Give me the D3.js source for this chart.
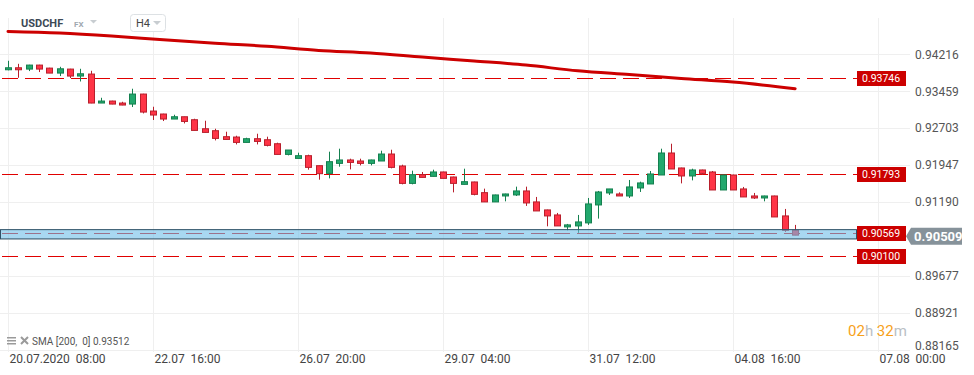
<!DOCTYPE html>
<html>
<head>
<meta charset="utf-8">
<script src="https://cdn.jsdelivr.net/npm/d3@7"></script>
<style>
body { margin: 0; background: #fff; }
svg { display: block; font-family: Roboto, "Noto Sans", sans-serif; }
text { white-space: pre; }
</style>
</head>
<body>
<svg id="chart" width="974" height="375"></svg>
<script>
// USDCHF H4 candles, 20.07.2020 08:00 onwards
var opens = [0.93899,0.93940,0.93913,0.93995,0.93933,0.93831,0.93913,0.93770,0.93811,0.93217,
  0.93258,0.93217,0.93196,0.93401,0.93053,0.92992,0.92889,0.92936,0.92875,0.92690,
  0.92650,0.92527,0.92520,0.92410,0.92486,0.92465,0.92383,0.92164,0.92082,0.92138,
  0.91933,0.91775,0.91980,0.92050,0.92029,0.91980,0.92029,0.92172,0.91927,0.91570,
  0.91749,0.91714,0.91804,0.91701,0.91550,0.91599,0.91380,0.91190,0.91312,0.91333,
  0.91415,0.91190,0.91026,0.90923,0.90678,0.90698,0.90760,0.91128,0.91374,0.91353,
  0.91312,0.91476,0.91558,0.91742,0.92193,0.91886,0.91722,0.91845,0.91804,0.91435,
  0.91742,0.91456,0.91312,0.91271,0.91312,0.90903,0.90608];
var highs = [0.94083,0.94021,0.94001,0.94001,0.93940,0.93960,0.93919,0.93919,0.93878,0.93325,
  0.93264,0.93243,0.93510,0.93407,0.93141,0.92998,0.92977,0.92936,0.92895,0.92854,
  0.92690,0.92629,0.92547,0.92506,0.92588,0.92527,0.92404,0.92254,0.92199,0.92158,
  0.91933,0.92220,0.92281,0.92076,0.92076,0.92056,0.92240,0.92260,0.91953,0.91830,
  0.91804,0.91851,0.91810,0.91708,0.91871,0.91605,0.91462,0.91339,0.91359,0.91503,
  0.91503,0.91292,0.91032,0.90964,0.90739,0.90923,0.91271,0.91415,0.91456,0.91386,
  0.91640,0.91605,0.91824,0.92281,0.92383,0.91892,0.91871,0.91851,0.91824,0.91749,
  0.91749,0.91497,0.91374,0.91318,0.91318,0.91046,0.90719];
var lows = [0.93888,0.93735,0.93872,0.93852,0.93831,0.93770,0.93729,0.93659,0.93213,0.93217,
  0.93192,0.93172,0.93135,0.93004,0.92869,0.92848,0.92889,0.92799,0.92656,0.92615,
  0.92451,0.92471,0.92369,0.92410,0.92369,0.92328,0.92164,0.92144,0.92082,0.91851,
  0.91646,0.91673,0.91912,0.91857,0.91939,0.91939,0.92029,0.91878,0.91550,0.91550,
  0.91693,0.91714,0.91673,0.91386,0.91550,0.91325,0.91190,0.91190,0.91202,0.91312,
  0.91108,0.91005,0.90690,0.90698,0.90608,0.90555,0.90719,0.90848,0.91333,0.91312,
  0.91271,0.91394,0.91558,0.91742,0.91865,0.91570,0.91632,0.91742,0.91435,0.91435,
  0.91435,0.91292,0.91251,0.91202,0.90882,0.90575,0.90509];
var closes = [0.93940,0.93899,0.93995,0.93913,0.93831,0.93919,0.93770,0.93817,0.93217,0.93258,
  0.93196,0.93176,0.93401,0.93032,0.92971,0.92889,0.92936,0.92840,0.92656,0.92615,
  0.92492,0.92471,0.92410,0.92486,0.92430,0.92349,0.92164,0.92254,0.92138,0.91898,
  0.91769,0.92015,0.92050,0.92000,0.91980,0.92050,0.92172,0.91898,0.91570,0.91749,
  0.91693,0.91804,0.91673,0.91570,0.91605,0.91345,0.91190,0.91333,0.91353,0.91415,
  0.91169,0.91005,0.90903,0.90698,0.90719,0.90780,0.91149,0.91394,0.91456,0.91312,
  0.91497,0.91579,0.91763,0.92193,0.91865,0.91722,0.91845,0.91775,0.91435,0.91742,
  0.91435,0.91292,0.91271,0.91312,0.90882,0.90608,0.90509];

// SMA(200) read at some candles
var smaIdx = [0,5,10,15,20,25,30,35,40,45,50,55,60,65,70,76];
var smaVals = [0.94683,0.94652,0.94591,0.94513,0.94441,0.94380,0.94294,0.94243,
  0.94159,0.94079,0.93995,0.93878,0.93800,0.93720,0.93647,0.93512];

var gridTicks = [0.94216,0.93459,0.92703,0.91947,0.91190,0.90433,0.89677,0.88921,0.88165];
// 0.90433 sits under the price tag, so no label for it
var priceLabels = [0.94216,0.93459,0.92703,0.91947,0.91190,0.89677,0.88921,0.88165];
var timeTickIdx = [0,14,28,42,56,70,84];
var timeTickLabels = ["20.07.2020  08:00","22.07  16:00","26.07  20:00","29.07  04:00",
  "31.07  12:00","04.08  16:00","07.08  00:00"];

var levels = [0.93746,0.91793,0.90569,0.90100];
var zone = [0.90432,0.90622];
var lastPrice = 0.90509;
var smaLegend = "SMA [200,  0] 0.93512";

var svg = d3.select("#chart");
var x = d3.scaleLinear().domain([0, 84]).range([8, 878]);
var y = d3.scaleLinear().domain([0.88165, 0.94216]).range([349.5, 54.3]);
var px = function(v) { return Math.round(v) + 0.5; };

// grid
svg.append("g").selectAll("line").data(gridTicks).enter().append("line")
  .attr("x1", 0).attr("x2", 910)
  .attr("y1", d => px(y(d))).attr("y2", d => px(y(d)))
  .attr("stroke", "#efefef");
svg.append("g").selectAll("line").data(timeTickIdx).enter().append("line")
  .attr("x1", d => px(x(d))).attr("x2", d => px(x(d)))
  .attr("y1", 18).attr("y2", 352)
  .attr("stroke", "#efefef");

// axes
var yAxis = d3.axisRight(y).tickValues(priceLabels).tickFormat(d3.format(".5f"))
  .tickSize(0).tickPadding(0);
var gy = svg.append("g").attr("transform", "translate(915,0)").call(yAxis);
gy.select(".domain").remove();
gy.attr("font-family", null);
gy.selectAll("text").attr("fill", "#555").style("font-size", "12px")
  .attr("y", d => d === 0.88165 ? -4 : 0);

var xAxis = d3.axisBottom(x).tickValues(timeTickIdx)
  .tickFormat((d, i) => timeTickLabels[i]).tickSize(0).tickPadding(5);
var gx = svg.append("g").attr("transform", "translate(0,349)").call(xAxis);
gx.select(".domain").remove();
gx.attr("font-family", null);
gx.selectAll("text").attr("fill", "#444").style("font-size", "12px")
  .attr("text-anchor", "start").attr("x", 1);

// horizontal levels
svg.append("g").selectAll("line").data(levels).enter().append("line")
  .attr("x1", 2).attr("x2", 857)
  .attr("y1", d => Math.round(y(d)) + 1.5).attr("y2", d => Math.round(y(d)) + 1.5)
  .style("stroke", "#e00000").style("stroke-width", 1)
  .style("stroke-dasharray", "16,7");

// SMA line
var smaPts = smaIdx.map((d, i) => [d, smaVals[i]]);
svg.append("path").datum(smaPts)
  .attr("d", d3.line().x(d => x(d[0])).y(d => y(d[1])).curve(d3.curveMonotoneX))
  .attr("fill", "none").attr("stroke", "#cc0000").attr("stroke-width", 3)
  .attr("stroke-linecap", "round");

// candles
var candles = opens.map((o, i) => ({ i: i, o: o, h: highs[i], l: lows[i], c: closes[i] }));
var cg = svg.append("g").selectAll("g").data(candles).enter().append("g");
var edge = d => d.c >= d.o ? "#14804f" : "#b81f2c";
cg.append("line")
  .attr("x1", d => px(x(d.i))).attr("x2", d => px(x(d.i)))
  .attr("y1", d => y(d.h)).attr("y2", d => y(d.l))
  .attr("stroke", edge);
cg.append("rect")
  .attr("x", d => Math.round(x(d.i)) - 2.5)
  .attr("y", d => y(Math.max(d.o, d.c)))
  .attr("width", 6)
  .attr("height", d => Math.max(1, Math.abs(y(d.o) - y(d.c))))
  .attr("fill", d => d.c >= d.o ? "#22a86d" : "#ff3446")
  .attr("stroke", edge);

// zone band
svg.append("rect")
  .attr("x", 0.5).attr("width", 856)
  .attr("y", y(zone[1])).attr("height", y(zone[0]) - y(zone[1]))
  .attr("fill", "rgba(110,190,232,0.6)").attr("stroke", "#2f5167");

// level labels
var lab = svg.append("g").selectAll("g").data(levels).enter().append("g")
  .attr("transform", d => "translate(857," + (Math.round(y(d)) + 1.5) + ")");
lab.append("rect").attr("x", 0).attr("y", -7.5).attr("width", 49).attr("height", 15)
  .attr("fill", "#cc0000");
lab.append("text").attr("x", 5).attr("dy", "0.35em").attr("fill", "#fff")
  .style("font-size", "10.5px").text(d => d3.format(".5f")(d));

// last price tag
var yl = y(lastPrice) + 1;
svg.append("path")
  .attr("d", "M906," + yl + "L911," + (yl - 8.5) + "H962V" + (yl + 8.5) + "H911Z")
  .attr("fill", "#86929a");
svg.append("text").attr("x", 914).attr("y", yl).attr("dy", "0.36em")
  .attr("fill", "#fff").style("font-size", "13px").style("font-weight", "bold")
  .text(d3.format(".5f")(lastPrice));

// header
svg.append("text").attr("x", 21).attr("y", 27).attr("fill", "#3c4955")
  .style("font-size", "11px").style("font-weight", "bold").text("USDCHF");
svg.append("text").attr("x", 74).attr("y", 27).attr("fill", "#9fa8af")
  .style("font-size", "8px").style("font-weight", "bold").text("FX");
svg.append("path").attr("d", "M90,20H97L93.5,23.5Z").attr("fill", "#c8cdd1");
svg.append("rect").attr("x", 130.5).attr("y", 14.5).attr("width", 35).attr("height", 17)
  .attr("rx", 3).attr("fill", "#fff").attr("stroke", "#dde1e4");
svg.append("text").attr("x", 136).attr("y", 27).attr("fill", "#444")
  .style("font-size", "11px").text("H4");
svg.append("path").attr("d", "M153,21H161L157,25Z").attr("fill", "#c8cdd1");

// SMA legend
var leg = svg.append("g").attr("fill", "#9a9a9a");
leg.append("rect").attr("x", 7).attr("y", 337).attr("width", 9).attr("height", 1.5);
leg.append("rect").attr("x", 7).attr("y", 340).attr("width", 9).attr("height", 1.5);
leg.append("rect").attr("x", 7).attr("y", 343).attr("width", 9).attr("height", 1.5);
leg.append("path").attr("d", "M21,337L28,344M28,337L21,344")
  .attr("stroke", "#9a9a9a").attr("stroke-width", 2);
svg.append("text").attr("x", 32).attr("y", 345).attr("fill", "#555")
  .style("font-size", "10px").text(smaLegend);

// countdown
var cd = svg.append("text").attr("x", 848).attr("y", 335.5).style("font-size", "15px");
cd.append("tspan").attr("fill", "#f7a11a").text("02");
cd.append("tspan").attr("fill", "#b9c0c5").text("h ");
cd.append("tspan").attr("fill", "#f7a11a").text("32");
cd.append("tspan").attr("fill", "#b9c0c5").text("m");
</script>
</body>
</html>
